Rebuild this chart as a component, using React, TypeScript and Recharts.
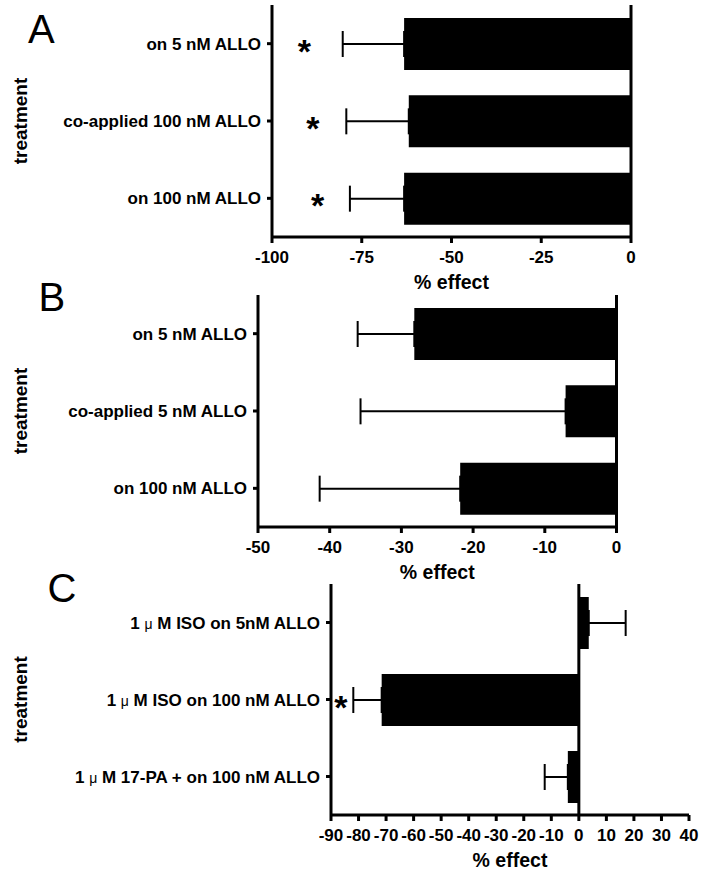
import React from 'react';
import { BarChart, Bar, XAxis, YAxis, ErrorBar, ReferenceLine, ReferenceDot } from 'recharts';

// ---------- data ----------
const categoriesA = ['on 5 nM ALLO', 'co-applied 100 nM ALLO', 'on 100 nM ALLO'];
const valuesA = [-63.2, -61.9, -63.2];
const errorsA = [17.1, 17.4, 15.1];
const starsA = [-91.0, -88.6, -87.3];
const ticksA = [-100, -75, -50, -25, 0];

const categoriesB = ['on 5 nM ALLO', 'co-applied 5 nM ALLO', 'on 100 nM ALLO'];
const valuesB = [-28.2, -7.1, -21.8];
const errorsB = [7.9, 28.6, 19.6];
const starsB: (number | null)[] = [null, null, null];
const ticksB = [-50, -40, -30, -20, -10, 0];

const categoriesC = ['1 μ M ISO on 5nM ALLO', '1 μ M ISO on 100 nM ALLO', '1 μ M 17-PA + on 100 nM ALLO'];
const valuesC = [3.6, -71.6, -4.0];
const errorsC = [13.4, 10.3, 8.4];
const starsC: (number | null)[] = [null, -86.4, null];
const ticksC = [-90, -80, -70, -60, -50, -40, -30, -20, -10, 0, 10, 20, 30, 40];

const FONT = "'Liberation Sans', Arial, Helvetica, sans-serif";

const CatTick = (props: any) => {
  const { x, y, payload } = props;
  const s: string = String(payload.value);
  const parts = s.split('μ');
  return (
    <text x={x} y={y} textAnchor="end" dy="0.36em" fontFamily={FONT} fontWeight="bold" fontSize={17} fill="#000">
      {parts.length > 1 ? (
        <>
          {parts[0]}
          <tspan fontWeight="normal" fontSize={14}>μ</tspan>
          {parts[1]}
        </>
      ) : s}
    </text>
  );
};

const NumTick = (props: any) => {
  const { x, y, payload } = props;
  return (
    <text x={x} y={y} textAnchor="middle" dy="0.71em" fontFamily={FONT} fontWeight="bold" fontSize={17} fill="#000">
      {payload.value}
    </text>
  );
};

const Star = (props: any) => {
  const { cx, cy } = props;
  return (
    <text x={cx} y={cy + 19} textAnchor="middle" fontFamily={FONT} fontWeight="bold" fontSize={34} fill="#000">*</text>
  );
};

type PanelProps = {
  top: number;
  height: number;
  plotLeft: number;
  plotRight: number;
  categories: string[];
  values: number[];
  errors: number[];
  stars: (number | null)[];
  ticks: number[];
  domain: [number, number];
};

const Panel = ({ top, height, plotLeft, plotRight, categories, values, errors, stars, ticks, domain }: PanelProps) => {
  const data = categories.map((c, i) => ({
    name: c,
    value: values[i],
    err: values[i] < 0 ? [errors[i], 0] : [0, errors[i]],
  }));
  const xAxisHeight = 58;
  return (
    <div style={{ position: 'absolute', left: 0, top, width: 704, height }}>
      <BarChart
        width={704}
        height={height}
        data={data}
        layout="vertical"
        margin={{ top: 5, right: 704 - plotRight, left: 0, bottom: 0 }}
      >
        <XAxis
          type="number"
          domain={domain}
          allowDataOverflow
          ticks={ticks}
          interval={0}
          height={xAxisHeight}
          axisLine={{ stroke: '#000', strokeWidth: 3 }}
          tickLine={{ stroke: '#000', strokeWidth: 3 }}
          tickSize={6}
          tickMargin={8}
          tick={<NumTick />}
          label={{
            content: (p: any) => {
              const vb = p.viewBox || {};
              const cx = vb.x + vb.width / 2;
              const cy = vb.y + 45;
              return (
                <text x={cx} y={cy} textAnchor="middle" dominantBaseline="central" fontFamily={FONT} fontWeight="bold" fontSize={19.5} fill="#000">% effect</text>
              );
            },
          }}
        />
        <YAxis
          type="category"
          dataKey="name"
          width={plotLeft}
          axisLine={{ stroke: '#000', strokeWidth: 3 }}
          tickLine={{ stroke: '#000', strokeWidth: 3 }}
          tickSize={5}
          tickMargin={6}
          tick={<CatTick />}
          interval={0}
          label={{
            content: (p: any) => {
              const vb = p.viewBox || {};
              const cx = 20;
              const cy = vb.y + vb.height / 2;
              return (
                <text x={cx} y={cy} transform={`rotate(-90 ${cx} ${cy})`} textAnchor="middle" dominantBaseline="central" fontFamily={FONT} fontWeight="bold" fontSize={19} fill="#000">treatment</text>
              );
            },
          }}
        />
        <Bar dataKey="value" fill="#000" barSize={52} isAnimationActive={false}>
          <ErrorBar dataKey="err" direction="x" width={13} stroke="#000" strokeWidth={2} isAnimationActive={false} />
        </Bar>
        <ReferenceLine x={0} stroke="#000" strokeWidth={3} />
        {stars.map((s, i) =>
          s === null ? null : (
            <ReferenceDot key={i} x={s} y={categories[i]} r={0} shape={<Star />} />
          )
        )}
      </BarChart>
    </div>
  );
};

export default function App() {
  return (
    <div style={{ position: 'absolute', left: 0, top: 0, width: 704, height: 873, overflow: 'hidden', background: '#fff' }}>
      <Panel top={0} height={295} plotLeft={272} plotRight={631} categories={categoriesA} values={valuesA} errors={errorsA} stars={starsA} ticks={ticksA} domain={[-100, 0]} />
      <Panel top={290} height={295} plotLeft={258} plotRight={616.5} categories={categoriesB} values={valuesB} errors={errorsB} stars={starsB} ticks={ticksB} domain={[-50, 0]} />
      <Panel top={579} height={294} plotLeft={331} plotRight={689} categories={categoriesC} values={valuesC} errors={errorsC} stars={starsC} ticks={ticksC} domain={[-90, 40]} />
      <svg width={704} height={873} style={{ position: 'absolute', left: 0, top: 0, pointerEvents: 'none' }}>
        <text x={28} y={42.7} fontFamily={FONT} fontSize={40} fill="#000">A</text>
        <text x={38.5} y={310.7} fontFamily={FONT} fontSize={40} fill="#000">B</text>
        <text x={47.5} y={601.7} fontFamily={FONT} fontSize={40} fill="#000">C</text>
      </svg>
    </div>
  );
}
